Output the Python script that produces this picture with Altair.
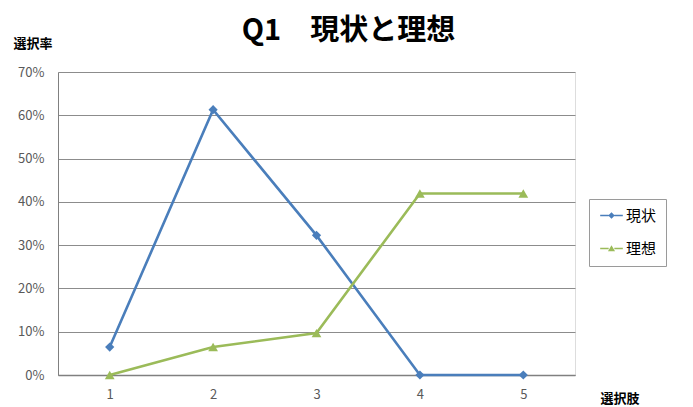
import altair as alt
import pandas as pd

choices = ["1", "2", "3", "4", "5"]
current = [0.0645, 0.6129, 0.3226, 0.0, 0.0]
ideal = [0.0, 0.0645, 0.0968, 0.4194, 0.4194]
series_names = ["現状", "理想"]
colors = ["#4A7EBB", "#9BBB59"]
y_ticks = [0, 0.1, 0.2, 0.3, 0.4, 0.5, 0.6, 0.7]

rows = []
for c, v in zip(choices, current):
    rows.append({"選択肢": c, "選択率": v, "系列": series_names[0]})
for c, v in zip(choices, ideal):
    rows.append({"選択肢": c, "選択率": v, "系列": series_names[1]})
df = pd.DataFrame(rows)

FONT = "Noto Sans CJK JP"

# legend glyphs: a short line with the marker in its middle
DIAMOND_LINE = ("M-1.6,-0.12H-0.4V0.12H-1.6Z M0.4,-0.12H1.6V0.12H0.4Z "
                "M0,-0.46L0.46,0L0,0.46L-0.46,0Z")
TRIANGLE_LINE = ("M-1.6,-0.12H-0.4V0.12H-1.6Z M0.4,-0.12H1.6V0.12H0.4Z "
                 "M0,-0.46L0.5,0.38L-0.5,0.38Z")

x_enc = alt.X(
    "選択肢:O",
    sort=choices,
    scale=alt.Scale(paddingOuter=0.5),
    axis=alt.Axis(
        title="選択肢", titleAngle=0, titleX=542, titleY=23, titleAlign="left",
        titleBaseline="middle", titleFontSize=13, titleFontWeight="bold",
        titleColor="#000000", titleFont=FONT,
        labelAngle=0, labelPadding=13, labelFontSize=13, labelColor="#595959",
        labelFont=FONT, ticks=False, domainColor="#808080", domainWidth=1.5,
        grid=False,
    ),
)
y_enc = alt.Y(
    "選択率:Q",
    scale=alt.Scale(domain=[0, 0.7], nice=False),
    axis=alt.Axis(
        values=y_ticks, format=".0%", title="選択率", titleAngle=0,
        titleX=-45, titleY=-29, titleAlign="left", titleBaseline="middle",
        titleFontSize=13, titleFontWeight="bold", titleColor="#000000",
        titleFont=FONT, labelFontSize=13, labelColor="#595959", labelFont=FONT,
        labelPadding=14, ticks=False, domainColor="#808080", gridColor="#8c8c8c",
        gridWidth=1,
    ),
)
legend = alt.Legend(
    title=None, orient="none", legendX=531, legendY=127,
    strokeColor="#9a9a9a", padding=9, labelFontSize=15, labelFont=FONT,
    labelColor="#000000", symbolSize=200, rowPadding=17,
    symbolOpacity=1, symbolStrokeWidth=0, labelOffset=7, symbolOffset=6,
)
color_enc = alt.Color(
    "系列:N",
    scale=alt.Scale(domain=series_names, range=colors),
    legend=legend,
)
shape_enc = alt.Shape(
    "系列:N",
    scale=alt.Scale(domain=series_names, range=[DIAMOND_LINE, TRIANGLE_LINE]),
    legend=legend,
)

base = alt.Chart(df)
lines = base.mark_line(strokeWidth=2.6).encode(
    x=x_enc, y=y_enc, color=color_enc, detail="系列:N"
)
pts_current = base.transform_filter(alt.datum["系列"] == series_names[0]).mark_point(
    filled=True, size=85, opacity=1, shape="diamond"
).encode(x=x_enc, y=y_enc, color=color_enc)
pts_ideal = base.transform_filter(alt.datum["系列"] == series_names[1]).mark_point(
    filled=True, size=95, opacity=1, shape="triangle-up"
).encode(x=x_enc, y=y_enc, color=color_enc)
legend_ghost = base.mark_point(filled=True, opacity=0).encode(
    x=x_enc, y=y_enc, color=color_enc, shape=shape_enc
)

chart = (
    alt.layer(lines, pts_current, pts_ideal, legend_ghost)
    .properties(
        width=517,
        height=303,
        autosize=alt.AutoSizeParams(type="none"),
        padding={"left": 50, "top": 64, "right": 110, "bottom": 30},
        title=alt.TitleParams(
            "Q1　現状と理想", fontSize=29, fontWeight="bold", font=FONT,
            anchor="middle", dx=32, offset=-9, color="#000000",
        ),
    )
    .configure_view(stroke=None)
    .configure(background="white")
)

chart.save("out.html", embed_options={"renderer": "svg", "actions": False})
